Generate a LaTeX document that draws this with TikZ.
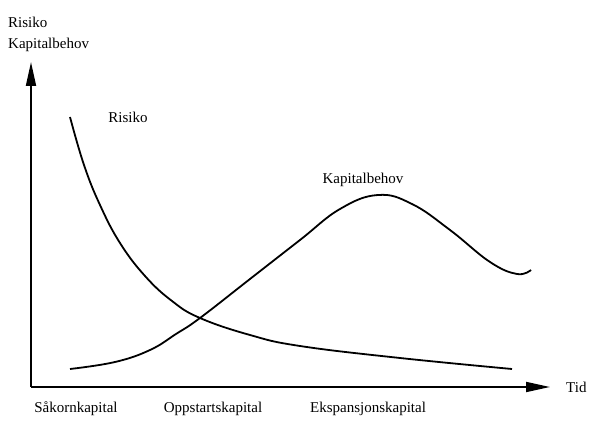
\documentclass[tikz,border=0pt]{standalone}
\usepackage{fontspec}
\setmainfont{Liberation Serif}
\usetikzlibrary{arrows.meta}
\begin{document}
\begin{tikzpicture}[x=1pt,y=-1pt,
  lbl/.style={font=\fontsize{15}{17}\selectfont,inner sep=0pt},
  axis/.style={line width=1.8pt,-{Triangle[length=24pt,width=10pt]}},
  curve/.style={line width=1.8pt,smooth,tension=0.7}]
\useasboundingbox (0,0) rectangle (589,435);
\coordinate (O) at (31,387);
\coordinate (ytop) at (31,62);
\coordinate (xend) at (550,387);
\draw[axis] (O) |- (xend);
\draw[axis] (O) -- (ytop);
\node[lbl,anchor=west] (yl1) at (8,22) {Risiko};
\node[lbl,anchor=west] (yl2) at (8,45) {Kapitalbehov};
\node[lbl,anchor=west] (tid) at (566,387) {Tid};
\node[lbl] (risiko) at (128,117) {Risiko};
\node[lbl] (kap) at (363,180) {Kapitalbehov};
\node[lbl] (s1) at (76,409) {Såkornkapital};
\node[lbl] (s2) at (213,409) {Oppstartskapital};
\node[lbl] (s3) at (368,409) {Ekspansjonskapital};
\draw[curve] plot coordinates {(70,117) (84,165) (100,205) (120,243) (145,276) (172,301) (200,318) (250,335) (300,346) (400,358) (512,369)};
\draw[curve] plot coordinates {(70,369) (115,362) (150,350) (176,334) (200,318) (250,279) (300,240) (340,209) (378,195) (412,204) (450,230) (490,262) (517,274) (531,270)};
\end{tikzpicture}
\end{document}
